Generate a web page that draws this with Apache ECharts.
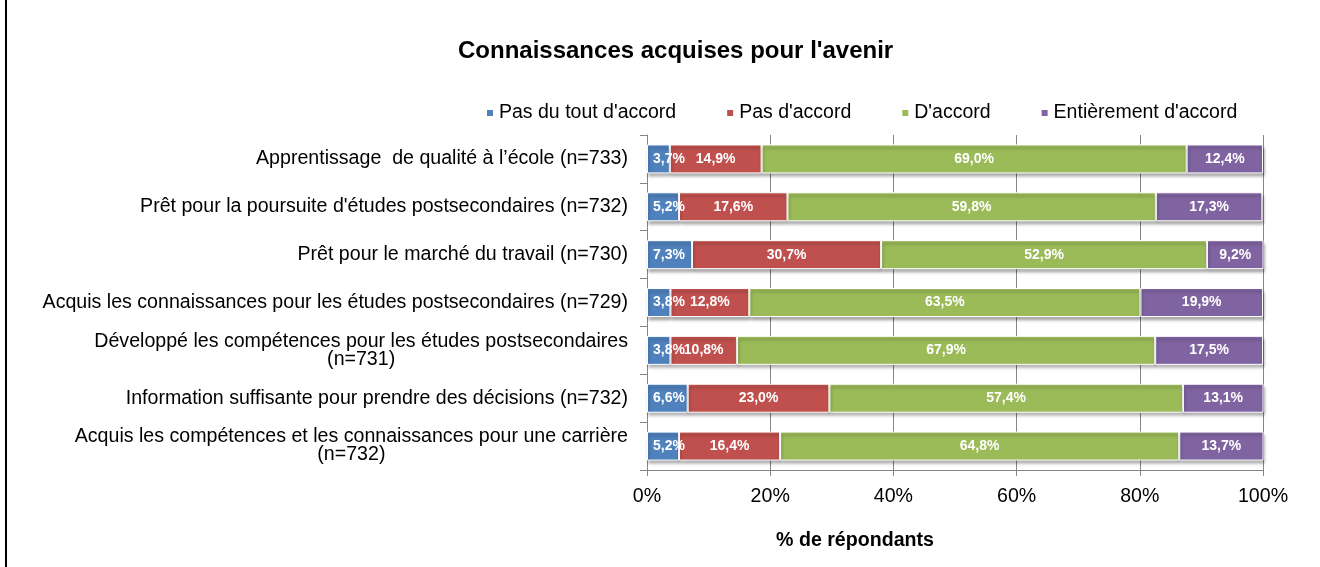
<!DOCTYPE html>
<html>
<head>
<meta charset="utf-8">
<script src="https://cdn.jsdelivr.net/npm/echarts@6/dist/echarts.min.js"></script>
<style>html,body{margin:0;padding:0;background:#fff;}#c{width:1320px;height:567px;}</style>
</head>
<body>
<div id="c"></div>
<script>
const categories = [
  "Apprentissage  de qualité à l’école (n=733)",
  "Prêt pour la poursuite d'études postsecondaires (n=732)",
  "Prêt pour le marché du travail (n=730)",
  "Acquis les connaissances pour les études postsecondaires (n=729)",
  "Développé les compétences pour les études postsecondaires\n(n=731)",
  "Information suffisante pour prendre des décisions (n=732)",
  "Acquis les compétences et les connaissances pour une carrière\n(n=732)"
];
const seriesNames = ["Pas du tout d'accord", "Pas d'accord", "D'accord", "Entièrement d'accord"];
const pasDuTout = [3.7, 5.2, 7.3, 3.8, 3.8, 6.6, 5.2];
const pasDaccord = [14.9, 17.6, 30.7, 12.8, 10.8, 23.0, 16.4];
const daccord = [69.0, 59.8, 52.9, 63.5, 67.9, 57.4, 64.8];
const entierement = [12.4, 17.3, 9.2, 19.9, 17.5, 13.1, 13.7];
const colors = ["#4F81BD", "#C0504D", "#9BBB59", "#8064A2"];
const xTicks = [0, 20, 40, 60, 80, 100];

const font = "Liberation Sans, Arial, sans-serif";
const allData = [pasDuTout, pasDaccord, daccord, entierement];

const chart = echarts.init(document.getElementById('c'));
chart.setOption({
  animation: false,
  backgroundColor: '#fff',
  textStyle: { fontFamily: font },
  title: {
    text: "Connaissances acquises pour l'avenir",
    left: 453, top: 34,
    textStyle: { fontSize: 24, fontWeight: 'bold', color: '#000', fontFamily: font }
  },
  legend: {
    data: seriesNames,
    left: 480, top: 98,
    icon: 'rect', itemWidth: 8, itemHeight: 8, itemGap: 49,
    textStyle: { fontSize: 19.5, color: '#000', fontFamily: font }
  },
  grid: { left: 647, right: 57, top: 135, bottom: 97 },
  xAxis: {
    type: 'value', min: 0, max: 100, interval: 20,
    axisLine: { show: true, lineStyle: { color: '#868686' } },
    axisTick: { show: true, length: 6, lineStyle: { color: '#868686' } },
    splitLine: { show: true, lineStyle: { color: '#868686' } },
    axisLabel: { formatter: v => xTicks.includes(v) ? v + '%' : '', fontSize: 19.6, color: '#000', margin: 17, fontFamily: font },
    name: '% de répondants',
    nameLocation: 'middle', nameGap: 61,
    nameTextStyle: { fontSize: 19.6, fontWeight: 'bold', color: '#000', padding: [0, 200, 0, 0], fontFamily: font }
  },
  yAxis: {
    type: 'category', data: categories, inverse: true,
    axisLine: { show: true, lineStyle: { color: '#868686' } },
    axisTick: { show: true, length: 7, lineStyle: { color: '#868686' } },
    axisLabel: {
      fontSize: 19.6, color: '#000', margin: 19, lineHeight: 18, fontFamily: font,
      formatter: v => v.split('\n').map(s => '{c|' + s + '}').join('\n'),
      rich: { c: { align: 'center', fontSize: 19.6, color: '#000', lineHeight: 18, fontFamily: font } }
    }
  },
  series: seriesNames.map((n, i) => ({
    name: n, type: 'bar', stack: 'total', barWidth: 29,
    data: allData[i],
    itemStyle: { color: colors[i], borderColor: '#fff', borderWidth: 1,
      shadowColor: 'rgba(0,0,0,0.35)', shadowBlur: 3, shadowOffsetY: 3, shadowOffsetX: 1 },
    label: {
      show: true, position: i === 0 ? 'insideLeft' : 'inside', distance: 6,
      color: '#fff', fontWeight: 'bold', fontSize: 14, fontFamily: font,
      formatter: p => p.value.toFixed(1).replace('.', ',') + '%'
    }
  })),
  graphic: [{ type: 'rect', shape: { x: 5, y: 0, width: 2, height: 567 }, style: { fill: '#000' } }]
});
</script>
</body>
</html>
